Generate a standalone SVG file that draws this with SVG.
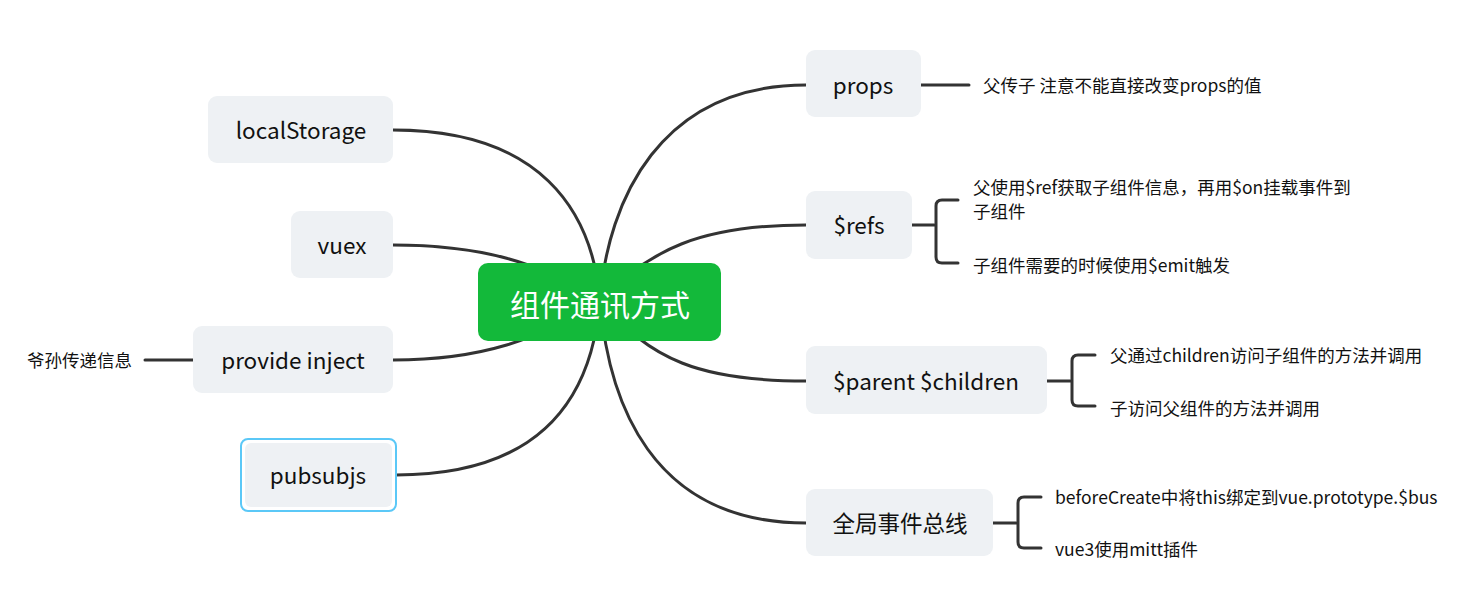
<svg xmlns="http://www.w3.org/2000/svg" width="1470" height="596" viewBox="0 0 1470 596">
<style>
.ln{fill:none;stroke:#333;stroke-width:3;stroke-linecap:round}
.box{fill:#EEF1F4}
.t{font-family:"Noto Sans CJK SC","Liberation Sans",sans-serif;font-size:22.5px;fill:#111;text-anchor:middle;dominant-baseline:central}
.s{font-family:"Noto Sans CJK SC","Liberation Sans",sans-serif;font-size:17.5px;fill:#111;dominant-baseline:central}
</style>
<rect width="1470" height="596" fill="#fff"/>
<g id="connectors">
<path class="ln" d="M393,130 C540,130 592,210 600,300"/>
<path class="ln" d="M393,245 C480,245 540,262 600,300"/>
<path class="ln" d="M393,360 C480,360 540,340 600,300"/>
<path class="ln" d="M396,475 C540,475 592,400 600,300"/>
<path class="ln" d="M806,85 C660,85 608,200 600,300"/>
<path class="ln" d="M806,225 C700,225 650,250 600,300"/>
<path class="ln" d="M806,381 C700,381 650,360 600,300"/>
<path class="ln" d="M806,523 C650,523 608,400 600,300"/>
<path class="ln" d="M921,85 H969"/>
<path class="ln" d="M912,225 H934 M958,200 H942 Q936,200 936,206 V257 Q936,263 942,263 H958"/>
<path class="ln" d="M1047,381 H1070 M1095,355 H1078 Q1072,355 1072,361 V400 Q1072,406 1078,406 H1095"/>
<path class="ln" d="M993,523 H1016 M1041,497 H1024 Q1018,497 1018,503 V542 Q1018,548 1024,548 H1041"/>
<path class="ln" d="M193,360 H145"/>
</g>
<g id="root">
<rect x="478" y="263" width="243" height="78" rx="10" fill="#13B93A"/>
<text class="t" x="600" y="303" style="font-size:30px;fill:#fff">组件通讯方式</text>
</g>
<g id="props">
<rect class="box" x="806" y="50" width="115" height="67" rx="9"/>
<text class="t" x="863" y="84">props</text>
<text class="s" x="983" y="84">父传子 注意不能直接改变props的值</text>
</g>
<g id="refs">
<rect class="box" x="806" y="191" width="106" height="68" rx="9"/>
<text class="t" x="859" y="224">$refs</text>
<text class="s" x="973" y="186">父使用$ref获取子组件信息，再用$on挂载事件到</text>
<text class="s" x="973" y="210">子组件</text>
<text class="s" x="973" y="264">子组件需要的时候使用$emit触发</text>
</g>
<g id="parent">
<rect class="box" x="806" y="346" width="241" height="68" rx="9"/>
<text class="t" x="926" y="380">$parent $children</text>
<text class="s" x="1110" y="354">父通过children访问子组件的方法并调用</text>
<text class="s" x="1110" y="407">子访问父组件的方法并调用</text>
</g>
<g id="bus">
<rect class="box" x="806" y="489" width="187" height="67" rx="9"/>
<text class="t" x="900" y="522">全局事件总线</text>
<text class="s" x="1055" y="496">beforeCreate中将this绑定到vue.prototype.$bus</text>
<text class="s" x="1055" y="548">vue3使用mitt插件</text>
</g>
<g id="localStorage">
<rect class="box" x="208" y="96" width="185" height="67" rx="9"/>
<text class="t" x="301" y="129">localStorage</text>
</g>
<g id="vuex">
<rect class="box" x="291" y="211" width="102" height="67" rx="9"/>
<text class="t" x="342" y="244">vuex</text>
</g>
<g id="provide">
<rect class="box" x="193" y="326" width="200" height="67" rx="9"/>
<text class="t" x="293" y="359">provide inject</text>
<text class="s" x="132" y="359" style="text-anchor:end">爷孙传递信息</text>
</g>
<g id="pubsubjs">
<rect x="241" y="439" width="155" height="72" rx="7" fill="#fff" stroke="#5BC8F7" stroke-width="2"/>
<rect class="box" x="245" y="443" width="147" height="64" rx="6"/>
<text class="t" x="318" y="474">pubsubjs</text>
</g>
</svg>
